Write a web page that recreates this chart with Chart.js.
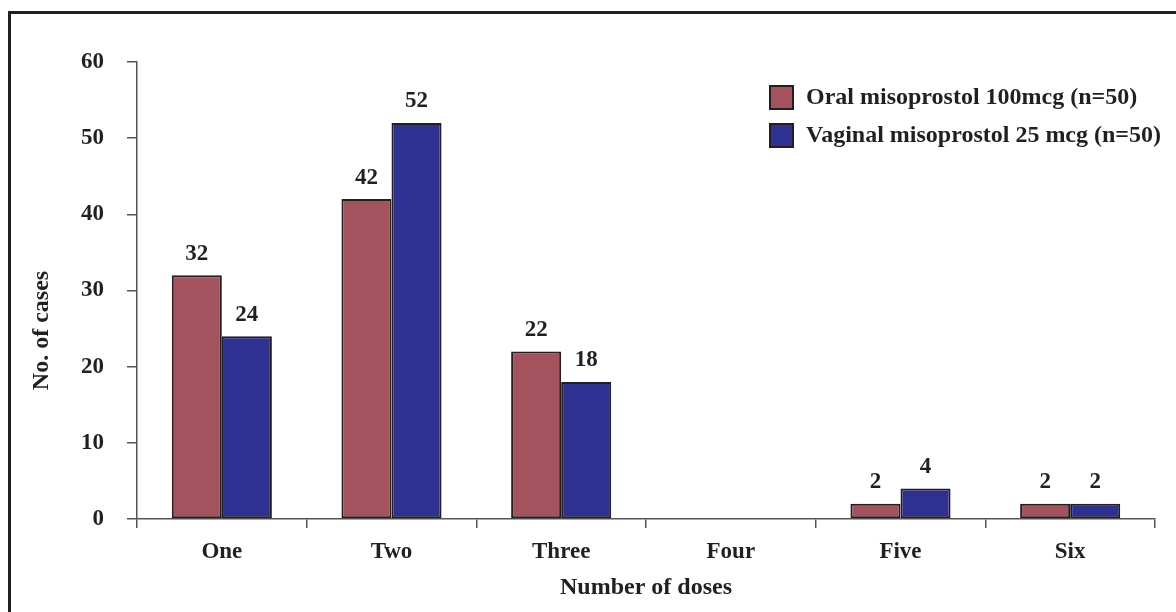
<!DOCTYPE html>
<html>
<head>
<meta charset="utf-8">
<script src="https://cdn.jsdelivr.net/npm/chart.js@4.4.1/dist/chart.umd.min.js"></script>
<style>
  html, body { margin: 0; padding: 0; background: #fff; overflow: hidden; }
  #wrap { position: absolute; left: 0; top: 0; width: 1176px; height: 612px; }
  #marco { position: absolute; left: 8px; top: 11px; width: 1300px; height: 800px;
           border: 3px solid #231f20; box-sizing: border-box; }
  canvas { position: absolute; left: 0; top: 0; }
</style>
</head>
<body>
<div id="wrap">
  <div id="marco"></div>
  <canvas id="graficoDosis" width="1176" height="612"></canvas>
</div>
<script>
// Datos del grafico
const categorias = ['One', 'Two', 'Three', 'Four', 'Five', 'Six'];
const oral = [32, 42, 22, 0, 2, 2];
const vaginal = [24, 52, 18, 0, 4, 2];
const nombresSeries = ['Oral misoprostol 100mcg (n=50)', 'Vaginal misoprostol 25 mcg (n=50)'];
const ticksY = [0, 10, 20, 30, 40, 50, 60];
const tituloY = 'No. of cases';

const fuente = "'Liberation Serif', 'Times New Roman', serif";
const colorTexto = '#231f20';
const colores = ['#a4535e', '#2e3192'];

// Etiquetas encima de cada barra
const pluginValores = {
    id: 'valores',
    afterDatasetsDraw(chart) {
        const ctx = chart.ctx;
        ctx.save();
        ctx.font = 'bold 23px ' + fuente;
        ctx.fillStyle = colorTexto;
        ctx.textAlign = 'center';
        ctx.textBaseline = 'bottom';
        chart.data.datasets.forEach((ds, i) => {
            chart.getDatasetMeta(i).data.forEach((bar, j) => {
                const v = ds.data[j];
                if (!v) return;
                ctx.fillText(v, bar.x, bar.y - 10);
            });
        });
        ctx.restore();
    }
};

// Leyenda y titulo del eje Y dibujados a mano
const pluginLeyenda = {
    id: 'leyendaManual',
    afterDraw(chart) {
        const ctx = chart.ctx;
        ctx.save();
        ctx.font = 'bold 24px ' + fuente;
        ctx.textBaseline = 'middle';
        ctx.textAlign = 'left';
        nombresSeries.forEach((nombre, i) => {
            const y = 86 + i * 38;
            ctx.fillStyle = colores[i];
            ctx.fillRect(770, y, 23, 23);
            ctx.lineWidth = 2;
            ctx.strokeStyle = colorTexto;
            ctx.strokeRect(770, y, 23, 23);
            ctx.fillStyle = colorTexto;
            ctx.fillText(nombre, 806, y + 12);
        });

        // titulo vertical, algo por debajo del centro como en el original
        const area = chart.chartArea;
        ctx.translate(42, (area.top + area.bottom) / 2 + 40);
        ctx.rotate(-Math.PI / 2);
        ctx.textAlign = 'center';
        ctx.fillText(tituloY, 0, 0);
        ctx.restore();
    }
};

new Chart(document.getElementById('graficoDosis').getContext('2d'), {
    type: 'bar',
    data: {
        labels: categorias,
        datasets: [
            { label: nombresSeries[0], data: oral, backgroundColor: colores[0] },
            { label: nombresSeries[1], data: vaginal, backgroundColor: colores[1] }
        ]
    },
    options: {
        responsive: false,
        animation: false,
        layout: { padding: { top: 62, right: 21, left: 0, bottom: 0 } },
        datasets: {
            bar: {
                categoryPercentage: 0.59,
                barPercentage: 1.0,
                borderColor: colorTexto,
                borderWidth: (c) => (c.raw ? 2 : 0),
                borderSkipped: false
            }
        },
        plugins: {
            legend: { display: false },
            tooltip: { enabled: false }
        },
        scales: {
            x: {
                grid: { drawOnChartArea: false, tickLength: 9, color: '#555', lineWidth: 1.5 },
                border: { color: '#555', width: 1.5 },
                ticks: { color: colorTexto, padding: 10, font: { family: fuente, size: 23, weight: 'bold' } },
                title: {
                    display: true,
                    text: 'Number of doses',
                    color: colorTexto,
                    padding: { top: 0, bottom: 10 },
                    font: { family: fuente, size: 24, weight: 'bold' }
                },
                afterFit(scale) { scale.height = 93; }
            },
            y: {
                min: 0,
                max: 60,
                afterBuildTicks(scale) { scale.ticks = ticksY.map(v => ({ value: v })); },
                grid: { drawOnChartArea: false, tickLength: 10, color: '#555', lineWidth: 1.5 },
                border: { color: '#555', width: 1.5 },
                ticks: { color: colorTexto, padding: 23, font: { family: fuente, size: 23, weight: 'bold' } },
                afterFit(scale) { scale.width = 137; }
            }
        }
    },
    plugins: [pluginValores, pluginLeyenda]
});
</script>
</body>
</html>
